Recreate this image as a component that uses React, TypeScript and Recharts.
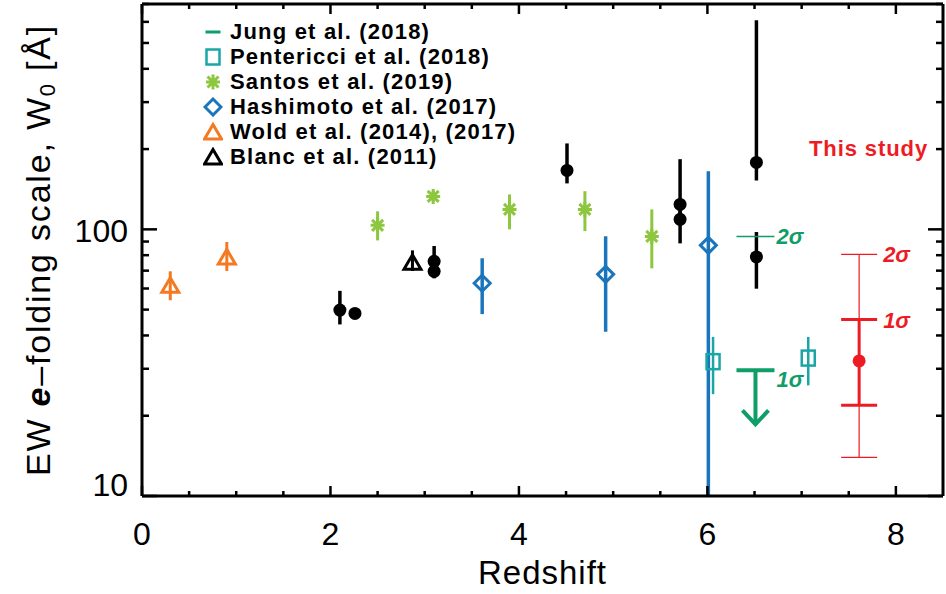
import React from 'react';
import { ScatterChart, Scatter, XAxis, YAxis, ErrorBar, Legend } from 'recharts';

const FONT = '"Liberation Sans", Arial, sans-serif';

const X_DOMAIN = [0, 8.5];
const Y_DOMAIN = [10, 700];
const X_TICKS = [0, 0.5, 1, 1.5, 2, 2.5, 3, 3.5, 4, 4.5, 5, 5.5, 6, 6.5, 7, 7.5, 8];
const X_MAJOR = [0, 2, 4, 6, 8];
const Y_TICKS = [10, 20, 30, 40, 50, 60, 70, 80, 90, 100, 200, 300, 400, 500, 600, 700];
const Y_MAJOR = [10, 100];

const C_JUNG = '#0f9d68';
const C_PENT = '#1aa6a6';
const C_SANTOS = '#8dc63f';
const C_HASHI = '#1b75bc';
const C_WOLD = '#f47920';
const C_RED = '#ed1c24';

// z = redshift, w = W0 [A], lo/hi = ends of the error bar
const WOLD = [
  { z: 0.3, w: 61.7, lo: 54.2, hi: 69.6 },
  { z: 0.9, w: 78.8, lo: 69.8, hi: 89.6 },
];
const BLANC = [{ z: 2.87, w: 75.2, lo: 69.8, hi: 83.4 }];
const LITERATURE = [
  { z: 2.1, w: 49.8, lo: 44, hi: 58.8 },
  { z: 2.26, w: 48.4, lo: 46.5, hi: 50.5 },
  { z: 3.1, w: 75.9, lo: 73, hi: 86.6 },
  { z: 3.1, w: 69.6, lo: 65.5, hi: 72 },
  { z: 4.51, w: 166.4, lo: 148.7, hi: 210 },
  { z: 5.71, w: 124, lo: 115, hi: 183.3 },
  { z: 5.71, w: 109, lo: 88.6, hi: 118 },
  { z: 6.52, w: 178.2, lo: 152.6, hi: 609 },
  { z: 6.52, w: 78.8, lo: 59.9, hi: 97.7 },
];
const SANTOS = [
  { z: 2.5, w: 103.5, lo: 90.9, hi: 116.8 },
  { z: 3.09, w: 132.9, lo: 127, hi: 139 },
  { z: 3.9, w: 118.8, lo: 100, hi: 135.2 },
  { z: 4.7, w: 118.8, lo: 98.5, hi: 139 },
  { z: 5.41, w: 94.1, lo: 71.4, hi: 118.8 },
];
const HASHIMOTO = [
  { z: 3.61, w: 62.8, lo: 48.1, hi: 77.9 },
  { z: 4.92, w: 67.8, lo: 41.3, hi: 94.2 },
  { z: 6.01, w: 87.1, lo: 10, hi: 165.3 },
];
const PENTERICCI = [
  { z: 6.06, w: 31.9, lo: 24.1, hi: 39.5 },
  { z: 7.07, w: 32.9, lo: 26, hi: 39.5 },
];
// upper limits
const JUNG = [
  { z: 6.51, w: 94.1, sigma: '2σ' },
  { z: 6.51, w: 29.6, sigma: '1σ' },
];
const THIS_STUDY = [{ z: 7.61, w: 32.1, lo1: 21.9, hi1: 45.9, lo2: 13.96, hi2: 80.6 }];
const THIS_STUDY_LABEL = [{ z: 7.71, w: 201, text: 'This study' }];

const LEGEND = [
  { label: 'Jung et al. (2018)', kind: 'dash', color: C_JUNG },
  { label: 'Pentericci et al. (2018)', kind: 'square', color: C_PENT },
  { label: 'Santos et al. (2019)', kind: 'asterisk', color: C_SANTOS },
  { label: 'Hashimoto et al. (2017)', kind: 'diamond', color: C_HASHI },
  { label: 'Wold et al. (2014), (2017)', kind: 'triangle', color: C_WOLD },
  { label: 'Blanc et al. (2011)', kind: 'triangle', color: '#000' },
];

const withErr = (pts: { z: number; w: number; lo: number; hi: number }[]) =>
  pts.map((p) => ({ ...p, err: [p.w - p.lo, p.hi - p.w] }));

const redData = THIS_STUDY.map((p) => ({
  ...p,
  e1: [p.w - p.lo1, p.hi1 - p.w],
  e2: [p.w - p.lo2, p.hi2 - p.w],
}));
const redSigmaLabels = THIS_STUDY.flatMap((p) => [
  { z: p.z, w: p.hi2, text: '2σ' },
  { z: p.z, w: p.hi1, text: '1σ' },
]);

function marker(kind: string, cx: number, cy: number, color: string) {
  switch (kind) {
    case 'circle':
      return <circle cx={cx} cy={cy} r={6.5} fill={color} />;
    case 'square':
      return (
        <rect x={cx - 6.5} y={cy - 7.5} width={13} height={15} fill="none" stroke={color} strokeWidth={2.5} />
      );
    case 'diamond':
      return (
        <polygon
          points={`${cx},${cy - 8} ${cx + 8},${cy} ${cx},${cy + 8} ${cx - 8},${cy}`}
          fill="none"
          stroke={color}
          strokeWidth={3}
        />
      );
    case 'triangle':
      return (
        <polygon
          points={`${cx - 8.5},${cy + 7} ${cx},${cy - 7.5} ${cx + 8.5},${cy + 7}`}
          fill="none"
          stroke={color}
          strokeWidth={3}
        />
      );
    case 'asterisk':
      return (
        <path
          d={`M${cx},${cy - 7.5}V${cy + 7.5}M${cx - 7},${cy}H${cx + 7}M${cx - 5.5},${cy - 5.5}L${cx + 5.5},${cy + 5.5}M${cx - 5.5},${cy + 5.5}L${cx + 5.5},${cy - 5.5}`}
          stroke={color}
          strokeWidth={3}
          fill="none"
        />
      );
    case 'dash':
      return <line x1={cx - 7.5} x2={cx + 7.5} y1={cy} y2={cy} stroke={color} strokeWidth={3} />;
    default:
      return null;
  }
}

const JungShape = (props: any) => {
  const { cx, cy, payload } = props;
  const half = 19;
  const labelStyle = { fontFamily: FONT, fontSize: 22, fontWeight: 700, fontStyle: 'italic' as const };
  if (payload.sigma === '2σ') {
    return (
      <g>
        <line x1={cx - half} x2={cx + half} y1={cy} y2={cy} stroke={C_JUNG} strokeWidth={1.5} />
        <text x={cx + half + 2} y={cy + 8} fill={C_JUNG} {...labelStyle}>
          {payload.sigma}
        </text>
      </g>
    );
  }
  return (
    <g>
      <line x1={cx - half} x2={cx + half} y1={cy} y2={cy} stroke={C_JUNG} strokeWidth={4} />
      <line x1={cx} x2={cx} y1={cy} y2={cy + 54} stroke={C_JUNG} strokeWidth={4} />
      <path d={`M${cx - 13},${cy + 40}L${cx},${cy + 54}L${cx + 13},${cy + 40}`} stroke={C_JUNG} strokeWidth={4} fill="none" />
      <text x={cx + half + 2} y={cy + 17} fill={C_JUNG} {...labelStyle}>
        {payload.sigma}
      </text>
    </g>
  );
};

const BottomTick = ({ x, y, payload }: any) => {
  const major = X_MAJOR.includes(payload.value);
  return (
    <g>
      <line x1={x} x2={x} y1={y} y2={y - (major ? 10 : 5)} stroke="#000" strokeWidth={2.5} />
      {major && (
        <text x={x} y={y + 49} textAnchor="middle" fontSize={32} fontFamily={FONT} fill="#000">
          {payload.value}
        </text>
      )}
    </g>
  );
};

const TopTick = ({ x, y, payload }: any) => {
  const major = X_MAJOR.includes(payload.value);
  return <line x1={x} x2={x} y1={y} y2={y + (major ? 10 : 5)} stroke="#000" strokeWidth={2.5} />;
};

const LeftTick = ({ x, y, payload }: any) => {
  const major = Y_MAJOR.includes(payload.value);
  return (
    <g>
      <line x1={x} x2={x + (major ? 15 : 7)} y1={y} y2={y} stroke="#000" strokeWidth={2.5} />
      {major && (
        <text
          x={x - 14}
          y={payload.value === Y_DOMAIN[0] ? y : y + 13}
          textAnchor="end"
          fontSize={32}
          fontFamily={FONT}
          fill="#000"
        >
          {payload.value}
        </text>
      )}
    </g>
  );
};

const RightTick = ({ x, y, payload }: any) => {
  const major = Y_MAJOR.includes(payload.value);
  return <line x1={x} x2={x - (major ? 15 : 7)} y1={y} y2={y} stroke="#000" strokeWidth={2.5} />;
};

const YTitle = ({ viewBox }: any) => {
  const cx = viewBox.x + 38;
  const cy = viewBox.y + viewBox.height / 2;
  return (
    <text
      x={cx}
      y={cy}
      transform={`rotate(-90 ${cx} ${cy})`}
      textAnchor="middle"
      dominantBaseline="central"
      fontSize={34}
      letterSpacing={1.8}
      fontFamily={FONT}
      fill="#000"
    >
      EW <tspan fontStyle="italic" fontWeight={700}>e</tspan>–folding scale, W
      <tspan fontSize={22} dy={9}>0</tspan>
      <tspan dy={-9}> [Å]</tspan>
    </text>
  );
};

const XTitle = ({ viewBox }: any) => (
  <text
    x={viewBox.x + viewBox.width / 2}
    y={viewBox.y + 88}
    textAnchor="middle"
    fontSize={33}
    letterSpacing={1}
    fontFamily={FONT}
    fill="#000"
  >
    Redshift
  </text>
);

const renderLegend = () => (
  <div style={{ fontFamily: FONT, fontWeight: 700, fontSize: 22, letterSpacing: 1.2, color: '#000' }}>
    {LEGEND.map((item) => (
      <div key={item.label} style={{ display: 'flex', alignItems: 'center', height: 25 }}>
        <svg width={20} height={20} style={{ marginRight: 7, flex: 'none' }}>
          {marker(item.kind, 10, 10, item.color)}
        </svg>
        <span style={{ whiteSpace: 'nowrap', lineHeight: '25px' }}>{item.label}</span>
      </div>
    ))}
  </div>
);

const axisLine = { stroke: '#000', strokeWidth: 3 };

export default function App() {
  return (
    <div style={{ position: 'absolute', left: 0, top: 0, width: 946, height: 594, background: '#fff' }}>
      <ScatterChart width={946} height={594} margin={{ top: 3, right: 2, bottom: 0, left: 0 }}>
        <XAxis
          xAxisId="b"
          type="number"
          dataKey="z"
          domain={X_DOMAIN}
          ticks={X_TICKS}
          interval={0}
          allowDataOverflow
          height={98}
          tickSize={0}
          tickMargin={0}
          tickLine={false}
          axisLine={axisLine}
          tick={<BottomTick />}
          label={<XTitle />}
        />
        <XAxis
          xAxisId="t"
          orientation="top"
          type="number"
          dataKey="z"
          domain={X_DOMAIN}
          ticks={X_TICKS}
          interval={0}
          allowDataOverflow
          height={1}
          tickSize={0}
          tickMargin={0}
          tickLine={false}
          axisLine={axisLine}
          tick={<TopTick />}
        />
        <YAxis
          yAxisId="l"
          type="number"
          dataKey="w"
          scale="log"
          domain={Y_DOMAIN}
          ticks={Y_TICKS}
          interval={0}
          allowDataOverflow
          width={142}
          tickSize={0}
          tickMargin={0}
          tickLine={false}
          axisLine={axisLine}
          tick={<LeftTick />}
          label={<YTitle />}
        />
        <YAxis
          yAxisId="r"
          orientation="right"
          type="number"
          dataKey="w"
          scale="log"
          domain={Y_DOMAIN}
          ticks={Y_TICKS}
          interval={0}
          allowDataOverflow
          width={1}
          tickSize={0}
          tickMargin={0}
          tickLine={false}
          axisLine={axisLine}
          tick={<RightTick />}
        />
        <Legend
          content={renderLegend}
          layout="vertical"
          align="center"
          verticalAlign="middle"
          wrapperStyle={{ left: 203, top: 19, width: 340, height: 152 }}
        />

        {/* frame axes carry no marks of their own */}
        <Scatter xAxisId="t" yAxisId="r" data={[]} isAnimationActive={false} legendType="none" />

        <Scatter xAxisId="b" yAxisId="l" data={withErr(WOLD)} isAnimationActive={false} legendType="none"
          shape={(p: any) => marker('triangle', p.cx, p.cy, C_WOLD)}>
          <ErrorBar dataKey="err" direction="y" width={0} stroke={C_WOLD} strokeWidth={3} isAnimationActive={false} />
        </Scatter>
        <Scatter xAxisId="b" yAxisId="l" data={withErr(BLANC)} isAnimationActive={false} legendType="none"
          shape={(p: any) => marker('triangle', p.cx, p.cy, '#000')}>
          <ErrorBar dataKey="err" direction="y" width={0} stroke="#000" strokeWidth={3} isAnimationActive={false} />
        </Scatter>
        <Scatter xAxisId="b" yAxisId="l" data={withErr(SANTOS)} isAnimationActive={false} legendType="none"
          shape={(p: any) => marker('asterisk', p.cx, p.cy, C_SANTOS)}>
          <ErrorBar dataKey="err" direction="y" width={0} stroke={C_SANTOS} strokeWidth={3} isAnimationActive={false} />
        </Scatter>
        <Scatter xAxisId="b" yAxisId="l" data={withErr(HASHIMOTO)} isAnimationActive={false} legendType="none"
          shape={(p: any) => marker('diamond', p.cx, p.cy, C_HASHI)}>
          <ErrorBar dataKey="err" direction="y" width={0} stroke={C_HASHI} strokeWidth={3.5} isAnimationActive={false} />
        </Scatter>
        <Scatter xAxisId="b" yAxisId="l" data={withErr(LITERATURE)} isAnimationActive={false} legendType="none"
          shape={(p: any) => marker('circle', p.cx, p.cy, '#000')}>
          <ErrorBar dataKey="err" direction="y" width={0} stroke="#000" strokeWidth={3.5} isAnimationActive={false} />
        </Scatter>
        <Scatter xAxisId="b" yAxisId="l" data={withErr(PENTERICCI)} isAnimationActive={false} legendType="none"
          shape={(p: any) => marker('square', p.cx, p.cy, C_PENT)}>
          <ErrorBar dataKey="err" direction="y" width={0} stroke={C_PENT} strokeWidth={2.5} isAnimationActive={false} />
        </Scatter>
        <Scatter xAxisId="b" yAxisId="l" data={JUNG} isAnimationActive={false} legendType="none" shape={<JungShape />} />
        <Scatter xAxisId="b" yAxisId="l" data={redData} isAnimationActive={false} legendType="none"
          shape={(p: any) => marker('circle', p.cx, p.cy, C_RED)}>
          <ErrorBar dataKey="e2" direction="y" width={18} stroke={C_RED} strokeWidth={1.2} isAnimationActive={false} />
          <ErrorBar dataKey="e1" direction="y" width={18} stroke={C_RED} strokeWidth={3} isAnimationActive={false} />
        </Scatter>
        <Scatter xAxisId="b" yAxisId="l" data={redSigmaLabels} isAnimationActive={false} legendType="none"
          shape={(p: any) => (
            <text x={p.cx + 24} y={p.cy + 8} fill={C_RED} fontFamily={FONT} fontSize={22} fontWeight={700} fontStyle="italic">
              {p.payload.text}
            </text>
          )}
        />
        <Scatter xAxisId="b" yAxisId="l" data={THIS_STUDY_LABEL} isAnimationActive={false} legendType="none"
          shape={(p: any) => (
            <text x={p.cx} y={p.cy + 8} textAnchor="middle" fill={C_RED} fontFamily={FONT} fontSize={22} fontWeight={700} letterSpacing={0.9}>
              {p.payload.text}
            </text>
          )}
        />
      </ScatterChart>
    </div>
  );
}
